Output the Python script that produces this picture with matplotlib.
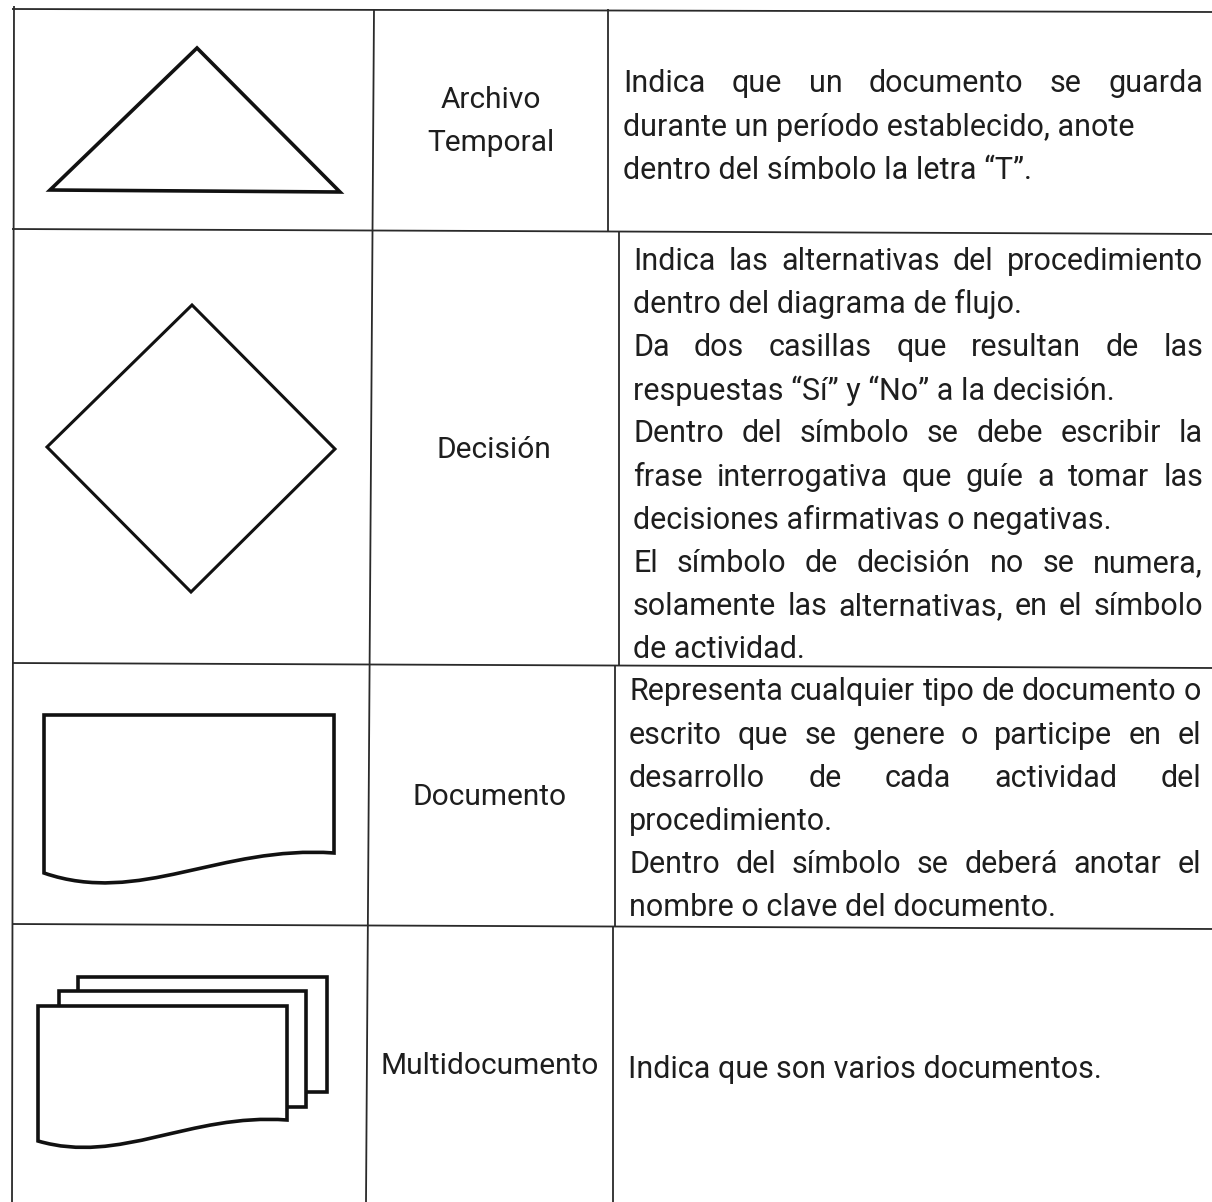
import matplotlib.pyplot as plt
from matplotlib.patches import Polygon, PathPatch, Rectangle
from matplotlib.path import Path

W, H = 1212, 1202

# table rules, in scan pixels (x0, y0, x1, y1)
rules = [
    (12, 9, 1212, 12),      # top
    (14, 6, 12, 1202),      # left
    (374, 9, 366, 1202),    # symbol | name
    (608, 9, 608, 231),     # name | description, per row
    (619, 231, 619, 665),
    (615, 665, 615, 927),
    (613, 927, 613, 1202),
    (12, 229, 1212, 234),
    (12, 663, 1212, 668),
    (12, 924, 1212, 929),
]

# symbols
triangle = [(50, 190), (197, 48), (340, 192)]
diamond = [(192, 305), (335, 449), (191, 592), (47, 447)]
# document: left, top, right, right-bottom y, left-bottom y, bezier control offsets
document = (44, 715, 334, 853, 873, 33, -8)
multi_front = (38, 1006, 287, 1120, 1141, 24, -7)
multi_back = [(59, 991, 306, 1107), (78, 977, 327, 1092)]

names = [["Archivo", "Temporal"], ["Decisión"], ["Documento"], ["Multidocumento"]]
names_pos = [(491, 100), (494, 450), (490, 797), (490, 1066)]

desc_row1 = [("Indica que un documento se guarda", True),
             ("durante un período establecido, anote", False),
             ("dentro del símbolo la letra “T”.", False)]
desc_row2 = [("Indica las alternativas del procedimiento", True),
             ("dentro del diagrama de flujo.", False),
             ("Da dos casillas que resultan de las", True),
             ("respuestas “Sí” y “No” a la decisión.", False),
             ("Dentro del símbolo se debe escribir la", True),
             ("frase interrogativa que guíe a tomar las", True),
             ("decisiones afirmativas o negativas.", False),
             ("El símbolo de decisión no se numera,", True),
             ("solamente las alternativas, en el símbolo", True),
             ("de actividad.", False)]
desc_row3 = [("Representa cualquier tipo de documento o", True),
             ("escrito que se genere o participe en el", True),
             ("desarrollo de cada actividad del", True),
             ("procedimiento.", False),
             ("Dentro del símbolo se deberá anotar el", True),
             ("nombre o clave del documento.", False)]
desc_row4 = [("Indica que son varios documentos.", False)]

desc_blocks = [(desc_row1, 623, 84, 1203),
               (desc_row2, 633, 261, 1203),
               (desc_row3, 629, 692, 1201),
               (desc_row4, 628, 1069, 1201)]
line_step = 43.2

plt.rcParams['font.family'] = ['Roboto', 'DejaVu Sans']
FS_NAME = 21.5
FS = 22
INK = '#1e1e1e'

fig = plt.figure(figsize=(W / 100, H / 100), dpi=100)
ax = fig.add_axes([0, 0, 1, 1])
ax.set_xlim(0, W)
ax.set_ylim(H, 0)
ax.axis('off')

for x0, y0, x1, y1 in rules:
    ax.plot([x0, x1], [y0, y1], color='#2a2a2a', lw=1.3, solid_capstyle='butt')


def doc_patch(spec, z):
    l, t, r, yr, yl, a, b = spec
    w = r - l
    verts = [(l, t), (r, t), (r, yr),
             (l + 0.607 * w, yr + b), (l + 0.33 * w, yl + a), (l, yl),
             (l, t)]
    codes = [Path.MOVETO, Path.LINETO, Path.LINETO,
             Path.CURVE4, Path.CURVE4, Path.CURVE4, Path.CLOSEPOLY]
    return PathPatch(Path(verts, codes), facecolor='white', edgecolor='#111111',
                     lw=2.6, joinstyle='miter', zorder=z)


ax.add_patch(Polygon(triangle, closed=True, fill=False, ec='#111111', lw=2.6, joinstyle='miter'))
ax.add_patch(Polygon(diamond, closed=True, fill=False, ec='#111111', lw=2.2, joinstyle='miter'))
ax.add_patch(doc_patch(document, 3))
for i, (l, t, r, b) in enumerate(reversed(multi_back)):
    ax.add_patch(Rectangle((l, t), r - l, b - t, facecolor='white',
                           edgecolor='#111111', lw=2.6, zorder=3 + i))
ax.add_patch(doc_patch(multi_front, 6))

for parts, (x, y) in zip(names, names_pos):
    for k, part in enumerate(parts):
        ax.text(x, y + k * 43, part, ha='center', va='center', fontsize=FS_NAME, color=INK)

renderer = fig.canvas.get_renderer()
for lines, x_left, y_first, x_right in desc_blocks:
    for i, (line, justify) in enumerate(lines):
        y = y_first + i * line_step
        if not justify:
            ax.text(x_left, y, line, ha='left', va='center', fontsize=FS, color=INK)
            continue
        words = line.split()
        objs = [ax.text(0, y, w, ha='left', va='center', fontsize=FS, color=INK) for w in words]
        widths = [o.get_window_extent(renderer).width for o in objs]
        gap = (x_right - x_left - sum(widths)) / (len(words) - 1)
        x = x_left
        for o, wd in zip(objs, widths):
            o.set_x(x)
            x += wd + gap

fig.savefig('out.png', dpi=100, facecolor='white')
